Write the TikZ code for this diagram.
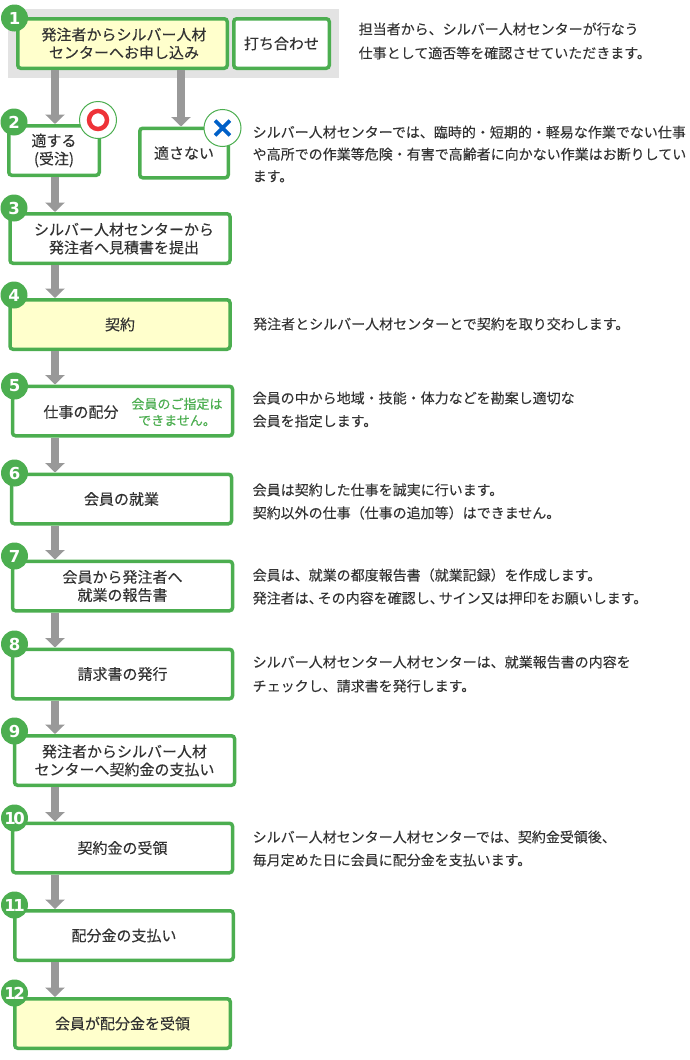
\documentclass[tikz,border=0pt]{standalone}
\usepackage{fontspec}
\setmainfont[FakeBold=0.06]{Noto Sans CJK JP}
\newfontfamily\boxfont[FakeBold=0.18]{Noto Sans CJK JP}
\newfontfamily\numfont{DejaVu Sans}
\usepackage{xcolor}
\usetikzlibrary{arrows.meta, positioning, calc, shapes.misc}
\definecolor{stepgreen}{HTML}{4CAE50}
\definecolor{stepyellow}{HTML}{FFFFCC}
\definecolor{flowgray}{HTML}{999999}
\definecolor{bandgray}{HTML}{E3E3E3}
\definecolor{inkgray}{HTML}{333333}
\definecolor{okred}{HTML}{EE3338}
\definecolor{ngblue}{HTML}{0060C8}
\tikzset{
	flowbox/.style={rectangle, draw=stepgreen, fill=white, line width=3.5pt, rounded corners=3pt, minimum width=220pt, minimum height=49.5pt, align=center, inner sep=0pt, text=inkgray, font=\boxfont\fontsize{15}{18}\selectfont},
	startbox/.style={flowbox, fill=stepyellow},
	stepnum/.style={circle, fill=stepgreen, minimum size=27pt, inner sep=0pt, text=white, font=\numfont\bfseries\fontsize{16.5}{16.5}\selectfont},
	note/.style={anchor=west, align=left, inner sep=0pt, text=inkgray, font=\fontsize{14}{23}\selectfont},
	flow/.style={draw=flowgray, line width=8pt, -{Triangle[length=9.5pt, width=19pt]}},
	badge/.style={circle, draw=stepgreen, fill=white, line width=1pt, minimum size=37pt, inner sep=0pt}
}
\begin{document}
\begin{tikzpicture}[x=1pt, y=-1pt]
		\useasboundingbox (0,0) rectangle (690,1060);
		
		% --- Band behind the first row ---
		\fill[bandgray] (8,9) rectangle (339,78);
		
		% --- Arrow columns ---
		\coordinate (trunk) at (55,0);
		\coordinate (branch) at (181,0);
		
		% --- Flow boxes ---
		\node[startbox, minimum width=209.5pt] (apply) at (122.5,43.5) {\hspace*{3pt}発注者からシルバー人材\\\hspace*{3pt}センターへお申し込み};
		\node[flowbox, minimum width=95.5pt] (meeting) at (281.5,43.5) {打ち合わせ};
		\node[flowbox, minimum width=90.5pt] (suited) at (54,150.5) {適する\\(受注)};
		\node[flowbox, minimum width=88.5pt] (unsuited) at (184,153) {適さない};
		\node[flowbox] (quote) at (120,238.5) {\hspace*{8pt}シルバー人材センターから\\\hspace*{8pt}発注者へ見積書を提出};
		\node[startbox] (contract) at (120,324.5) {契約};
		\node[flowbox] (assign) at (122.5,411) {};
		\node[flowbox] (work) at (121.5,499) {会員の就業};
		\node[flowbox] (report) at (122.5,586) {会員から発注者へ\\就業の報告書};
		\node[flowbox] (invoice) at (122.5,674) {請求書の発行};
		\node[flowbox] (payment) at (124.5,760.5) {発注者からシルバー人材\\センターへ契約金の支払い};
		\node[flowbox] (receipt) at (122.5,848) {契約金の受領};
		\node[flowbox, minimum width=218.5pt] (share) at (124,935.5) {配分金の支払い};
		\node[startbox, minimum width=215.5pt] (received) at (122.5,1023.5) {会員が配分金を受領};
		
		% --- Texts inside the split box ---
		\node[text=inkgray, font=\boxfont\fontsize{15}{18}\selectfont, inner sep=0pt] (assignlabel) at (81,412) {仕事の配分};
		\node[text=stepgreen, align=center, inner sep=0pt, font=\boxfont\fontsize{13}{16.5}\selectfont] (assignhint) at (177,412) {会員のご指定は\\できません。};
		
		% --- Vertical arrows ---
		\draw[flow] (apply.south -| trunk) -- (suited.north -| trunk);
		\draw[flow] (apply.south -| branch) -- (unsuited.north -| branch);
		\draw[flow] (suited.south -| trunk) -- (quote.north -| trunk);
		\draw[flow] (quote.south -| trunk) -- (contract.north -| trunk);
		\draw[flow] (contract.south -| trunk) -- (assign.north -| trunk);
		\draw[flow] (assign.south -| trunk) -- (work.north -| trunk);
		\draw[flow] (work.south -| trunk) -- (report.north -| trunk);
		\draw[flow] (report.south -| trunk) -- (invoice.north -| trunk);
		\draw[flow] (invoice.south -| trunk) -- (payment.north -| trunk);
		\draw[flow] (payment.south -| trunk) -- (receipt.north -| trunk);
		\draw[flow] (receipt.south -| trunk) -- (share.north -| trunk);
		\draw[flow] (share.south -| trunk) -- (received.north -| trunk);
		
		% --- Step numbers ---
		\node[stepnum] (num1) at (14.5,18) {1};
		\node[stepnum] (num2) at (14,122) {2};
		\node[stepnum] (num3) at (14,208) {3};
		\node[stepnum] (num4) at (14,295) {4};
		\node[stepnum] (num5) at (14.5,386) {5};
		\node[stepnum] (num6) at (14.5,473) {6};
		\node[stepnum] (num7) at (14.5,556) {7};
		\node[stepnum] (num8) at (14.5,644) {8};
		\node[stepnum] (num9) at (14.5,731) {9};
		\node[stepnum] (num10) at (14.5,818) {1\kern-2.5pt 0};
		\node[stepnum] (num11) at (14.5,905) {1\kern-2.5pt 1};
		\node[stepnum] (num12) at (14.5,993) {1\kern-2.5pt 2};
		
		% --- Round and cross badges ---
		\node[badge] (okbadge) at (98,120) {};
		\node[circle, draw=okred, line width=4.5pt, minimum size=18pt, inner sep=0pt] (okmark) at (okbadge) {};
		\node[badge] (ngbadge) at (222.5,128) {};
		\node[cross out, draw=ngblue, line width=3.8pt, minimum size=11pt, inner sep=0pt] (ngmark) at (ngbadge) {};
		
		% --- Side notes ---
		\node[note, font=\fontsize{14}{24}\selectfont] (note1) at (358.5,41) {担当者から、シルバー人材センターが行なう\\仕事として適否等を確認させていただきます。};
		\node[note, font=\fontsize{14}{22}\selectfont] (note2) at (252.5,154) {シルバー人材センターでは、臨時的・短期的・軽易な作業でない仕事\\や高所での作業等危険・有害で高齢者に向かない作業はお断りしてい\\ます。};
		\node[note] (note4) at (253,324) {発注者とシルバー人材センターとで契約を取り交わします。};
		\node[note] (note5) at (252.5,409.5) {会員の中から地域・技能・体力などを勘案し適切な\\会員を指定します。};
		\node[note] (note6) at (252.5,501.5) {会員は契約した仕事を誠実に行います。\\契約以外の仕事（仕事の追加等）はできません。};
		\node[note] (note7) at (252.5,586.5) {会員は、就業の都度報告書（就業記録）を作成します。\\発注者は、\kern-5pt その内容を確認し、\kern-5pt サイン又は押印をお願いします。};
		\node[note, font=\fontsize{14}{24}\selectfont] (note8) at (252.5,674) {シルバー人材センター人材センターは、就業報告書の内容を\\チェックし、請求書を発行します。};
		\node[note] (note10) at (252.5,848.5) {シルバー人材センター人材センターでは、契約金受領後、\\毎月定めた日に会員に配分金を支払います。};
		
	\end{tikzpicture}
\end{document}
